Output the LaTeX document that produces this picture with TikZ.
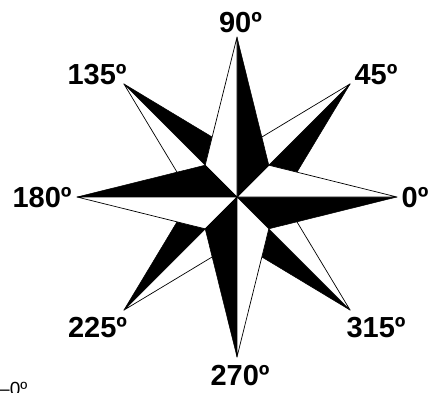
\documentclass[tikz,border=0pt]{standalone}
\usepackage{fontspec}
\setmainfont{Liberation Sans}
\usetikzlibrary{calc}
\tikzset{
    darkhalf/.style={fill=black, draw=black, line width=0.5pt, line join=round},
    lighthalf/.style={fill=white, draw=black, line width=0.7pt, line join=round},
    heading/.style={font=\fontsize{29}{34}\selectfont\bfseries, inner sep=0pt}
}

\begin{document}
\begin{tikzpicture}[x=1pt, y=1pt]
    \useasboundingbox (-237,-195) rectangle (201,197);
    \clip (-237,-195) rectangle (201,197);
    \coordinate (O) at (0,0);
    % diagonal points first, the four main points lie over them
    \foreach \a in {45,135,225,315,0,90,180,270}{
        \coordinate (tip\a) at (\a:160);
        \filldraw[darkhalf] (O) -- (tip\a) -- (\a-45:45) -- cycle;
        \filldraw[lighthalf] (O) -- (tip\a) -- (\a+45:45) -- cycle;
    }
    \node[heading] (h90) at (3.5,174.5) {90º};
    \node[heading] (h45) at (139,122) {45º};
    \node[heading] (h135) at (-140,122.5) {135º};
    \node[heading] (h0) at (178,-1) {0º};
    \node[heading] (h180) at (-195,-1) {180º};
    \node[heading] (h225) at (-139.5,-131) {225º};
    \node[heading] (h315) at (139,-131) {315º};
    \node[heading] (h270) at (3,-179) {270º};
    \node[anchor=base west, inner sep=0pt, font=\fontsize{19}{21}\selectfont] (cut) at (-238,-198) {–0º};
\end{tikzpicture}
\end{document}
